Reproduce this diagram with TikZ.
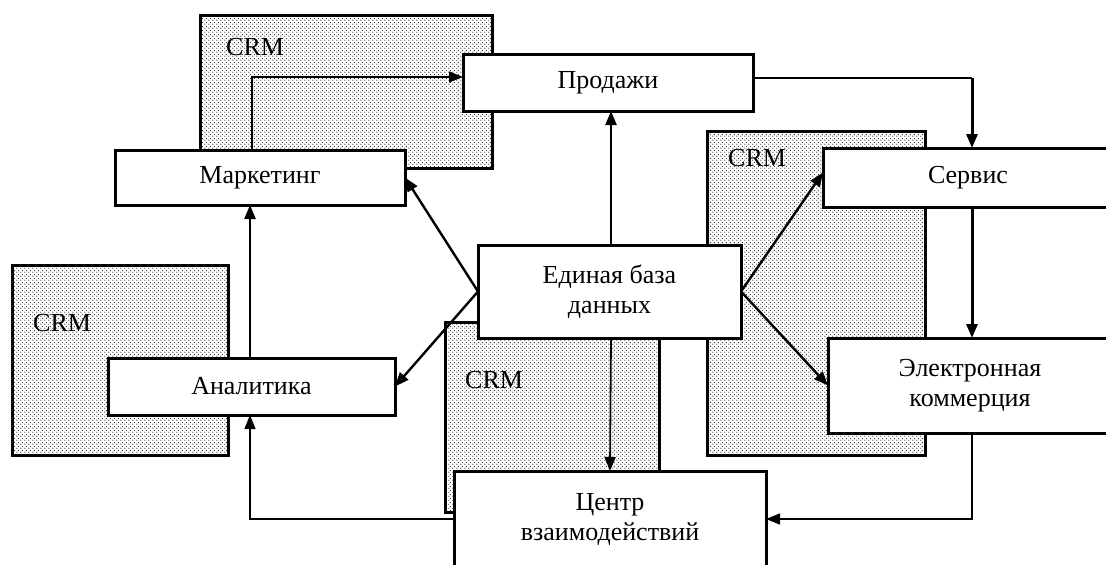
\documentclass[tikz,border=0pt]{standalone}
\usepackage{fontspec}
\setmainfont{Liberation Serif}
\usetikzlibrary{arrows.meta, patterns, calc}

\pgfdeclarepatternformonly{crmpunkte}{\pgfpointorigin}{\pgfpoint{4pt}{4pt}}{\pgfpoint{4pt}{4pt}}{%
	\pgfpathcircle{\pgfpoint{1pt}{1pt}}{0.75pt}%
	\pgfpathcircle{\pgfpoint{3pt}{3pt}}{0.75pt}%
	\pgfusepath{fill}}

\begin{document}
\begin{tikzpicture}[x=1pt, y=-1pt,
		blok/.style={draw, line width=3pt, fill=white, inner sep=0pt, outer sep=0pt, align=center, font=\fontsize{26}{30}\selectfont},
		crmfeld/.style={draw, line width=3pt, pattern=crmpunkte, pattern color=black!85},
		crmtext/.style={anchor=west, inner sep=0pt, font=\fontsize{26}{30}\selectfont},
		pfeil/.style={line width=2.4pt, -{Triangle[length=14pt,width=11pt]}},
		pfeilduenn/.style={line width=1.4pt, -{Triangle[length=14pt,width=11pt]}}]
		\useasboundingbox (0,0) rectangle (1106,565);
		\clip (0,0) rectangle (1106,565);

		% CRM areas
		\draw[crmfeld] (200,15) rectangle (492,168);
		\draw[crmfeld] (707,131) rectangle (925,455);
		\draw[crmfeld] (12,265) rectangle (228,455);
		\draw[crmfeld] (445,322) rectangle (659,512);
		\node[crmtext] (crm1) at (226,47) {CRM};
		\node[crmtext] (crm2) at (728,158) {CRM};
		\node[crmtext] (crm3) at (33,323) {CRM};
		\node[crmtext] (crm4) at (465,380) {CRM};

		% Blocks
		\node[blok, minimum width=290, minimum height=57] (prodazhi) at (608,82.5) {Продажи};
		\node[blok, minimum width=290, minimum height=55] (marketing) at (260,177.5) {Маркетинг};
		\node[blok, minimum width=287, minimum height=57] (analitika) at (251.5,386.5) {Аналитика};
		\node[blok, minimum width=263, minimum height=93] (baza) at (609.5,291.5) {Единая база\\данных};
		\node[blok, minimum width=290, minimum height=59] (servis) at (968,177.5) {Сервис};
		\node[blok, minimum width=284, minimum height=95] (ecom) at (970,385.5) {Электронная\\коммерция};
		\node[blok, minimum width=312, minimum height=96] (centr) at (610,519) {Центр\\взаимодействий};

		% Connections
		\draw[pfeilduenn] ($(marketing.north)+(-8,0)$) |- ($(prodazhi.west)+(0,-5.5)$);
		\draw[pfeil] ($(analitika.north)+(-1.5,0)$) -- ($(marketing.south)+(-10,0)$);
		\draw[pfeil] (baza.west) -- (marketing.east);
		\draw[pfeil] (baza.west) -- (analitika.east);
		\draw[pfeil] ($(baza.north)+(1.5,0)$) -- ($(prodazhi.south)+(3,0)$);
		\draw[pfeilduenn, line width=1.8pt] ($(baza.south)+(1.5,0)$) -- (centr.north);
		\draw[pfeil] (baza.east) -- ($(servis.west)+(0,-5)$);
		\draw[pfeil] (baza.east) -- (ecom.west);
		\draw[line width=1.4pt] ($(prodazhi.east)+(0,-4.5)$) -- ($(prodazhi.east)+(219,-4.5)$);
		\draw[pfeil, line width=3pt] ($(prodazhi.east)+(219,-4.5)$) -- ($(servis.north)+(4,0)$);
		\draw[pfeil, line width=3pt] ($(servis.south)+(4,0)$) -- ($(ecom.north)+(2,0)$);
		\draw[pfeilduenn] ($(ecom.south)+(2,0)$) |- (centr.east);
		\draw[pfeilduenn] (centr.west) -| ($(analitika.south)+(-1.5,0)$);
	\end{tikzpicture}
\end{document}
